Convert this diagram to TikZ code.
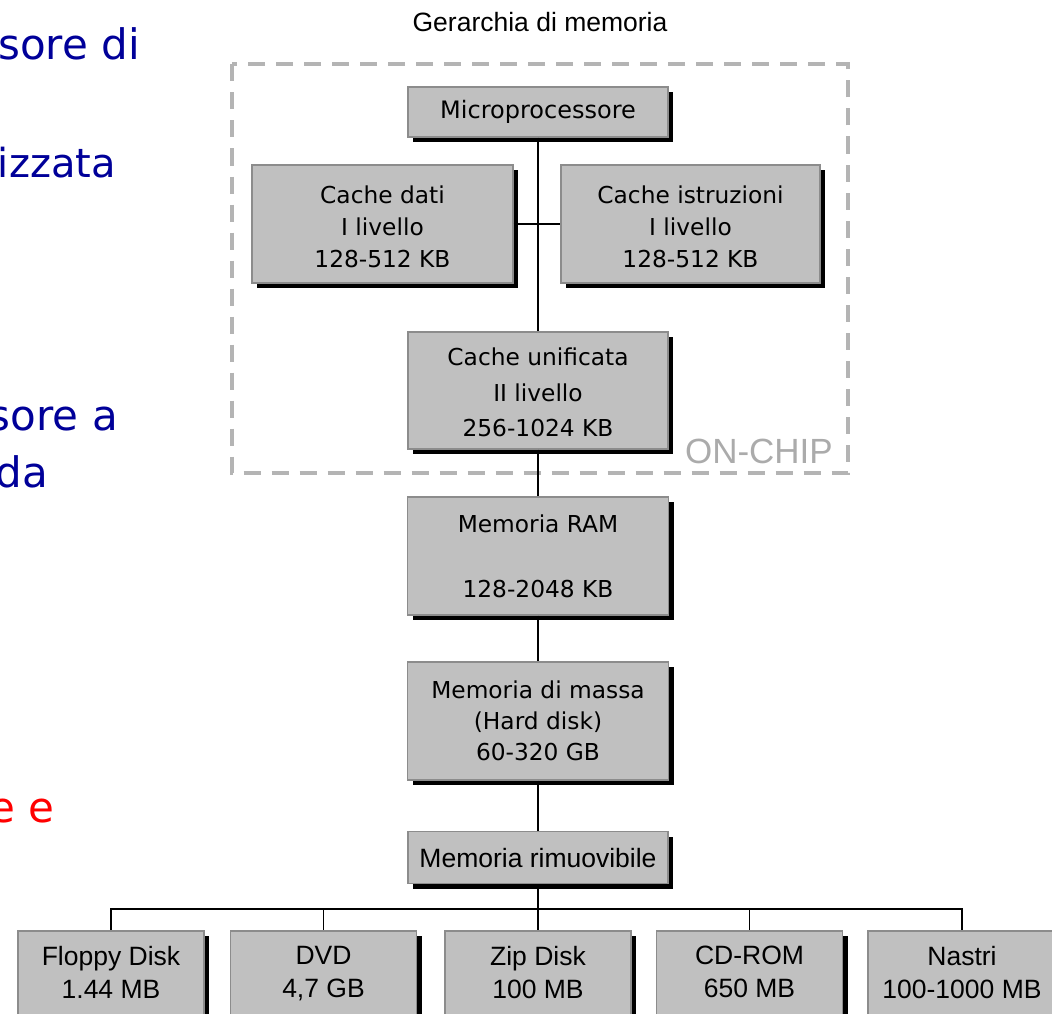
\documentclass[tikz,border=0pt]{standalone}
\usepackage{fontspec}
\setmainfont{DejaVu Sans}
\newfontfamily\arialf{Liberation Sans}
\usetikzlibrary{shadows}
\definecolor{boxfill}{HTML}{C0C0C0}
\definecolor{boxline}{HTML}{8C8C8C}
\definecolor{dashgray}{HTML}{B4B4B4}
\definecolor{navytext}{HTML}{000099}
\definecolor{onchipgray}{HTML}{ABABAB}
\newcommand\topstrut[1]{\rule{0pt}{#1}}
\newcommand\botstrut{\rule[-4pt]{0pt}{4pt}}
\begin{document}
\begin{tikzpicture}[x=1pt,y=-1pt,
  box/.style={draw=boxline, line width=1.2pt, fill=boxfill, inner sep=0pt,
    align=center, text=black,
    drop shadow={shadow xshift=5pt, shadow yshift=-5pt, fill=black, opacity=1}},
  tahbox/.style={box, font=\fontsize{23.3}{32}\selectfont},
  arbox/.style={box, font=\arialf\fontsize{26.5}{33}\selectfont},
  conn/.style={draw=black, line width=1.5pt},
  lefttext/.style={anchor=base east, inner sep=0pt, font=\fontsize{42}{50}\selectfont}]
\useasboundingbox (0,0) rectangle (1052,1014);
\clip (0,0) rectangle (1052,1014);

% left fragments of text (cut by the left edge, as in the reference)
\node[lefttext, text=navytext] (t1) at (140,60) {sore di};
\node[lefttext, text=navytext, font=\fontsize{40}{48}\selectfont] (t2) at (116,177) {izzata};
\node[lefttext, text=navytext] (t3) at (118,430) {sore a};
\node[lefttext, text=navytext] (t4) at (48,487) {da};
\node[lefttext, text=red] (t5) at (54.5,822) {e e};

% title
\node[anchor=base, inner sep=0pt, font=\arialf\fontsize{26.5}{32}\selectfont] (title) at (540,32) {Gerarchia di memoria};

% on-chip region
\draw[dashgray, line width=4pt, dash pattern=on 17pt off 11pt] (232,64.5) rectangle (848,473);
\node[anchor=base east, inner sep=0pt, text=onchipgray, font=\arialf\fontsize{35}{40}\selectfont] (onchip) at (833,463) {ON-CHIP};

% main column boxes
\node[box, font=\fontsize{24}{30}\selectfont, minimum width=260, minimum height=50] (micro) at (538,112) {Microprocessore};
\node[tahbox, minimum width=261, minimum height=118] (cdati) at (382.5,224) {\topstrut{24pt}Cache dati\\I livello\\128-512 KB};
\node[tahbox, minimum width=259, minimum height=118] (cistr) at (690.5,224) {\topstrut{23pt}Cache istruzioni\\I livello\\128-512 KB};
\node[tahbox, font=\fontsize{23.3}{35.5}\selectfont, minimum width=260, minimum height=117] (uni) at (538,390.5) {\topstrut{22pt}Cache unificata\\II livello\\256-1024 KB};
\node[tahbox, minimum width=261, minimum height=118] (ram) at (538,556) {Memoria RAM\\[33pt]128-2048 KB};
\node[tahbox, font=\fontsize{23.3}{31}\selectfont, minimum width=261, minimum height=118] (massa) at (538,721) {Memoria di massa\\(Hard disk)\\60-320 GB};
\node[arbox, minimum width=260, minimum height=52] (rim) at (538,857.7) {Memoria rimuovibile};

% removable media
\node[arbox, minimum width=186, minimum height=86] (floppy) at (111,974) {Floppy Disk\\1.44 MB\botstrut};
\node[arbox, minimum width=186, minimum height=86] (dvd) at (323.5,974) {DVD\\4,7 GB\botstrut};
\node[arbox, minimum width=186, minimum height=86] (zip) at (538,974) {Zip Disk\\100 MB\botstrut};
\node[arbox, minimum width=186, minimum height=86] (cdrom) at (749.5,974) {CD-ROM\\650 MB\botstrut};
\node[arbox, minimum width=188, minimum height=86] (nastri) at (962,974) {Nastri\\100-1000 MB\botstrut};

% connectors
\coordinate (bus) at (538,909);
\draw[conn] (micro.south) -- (uni.north);
\draw[conn] (cdati.east) -- (cistr.west);
\draw[conn] (uni.south) -- (ram.north);
\draw[conn] (ram.south) -- (massa.north);
\draw[conn] (massa.south) -- (rim.north);
\draw[conn] (rim.south) -- (bus);
\draw[conn] (bus) -| (floppy.north);
\draw[conn] (bus) -| (dvd.north);
\draw[conn] (bus) -- (zip.north);
\draw[conn] (bus) -| (cdrom.north);
\draw[conn] (bus) -| (nastri.north);
\end{tikzpicture}
\end{document}
